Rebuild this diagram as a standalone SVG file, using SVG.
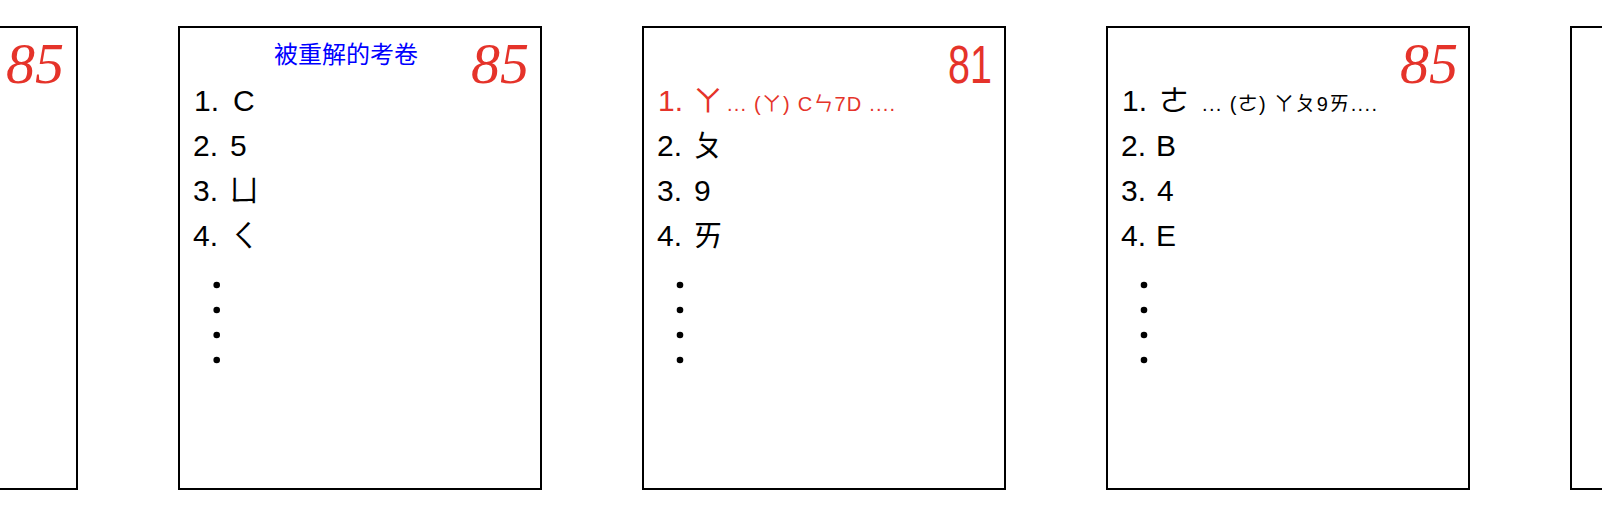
<svg xmlns="http://www.w3.org/2000/svg" width="1602" height="512" viewBox="0 0 1602 512">
<style>
.paper{fill:#fff;stroke:#000;stroke-width:2}
.item{font-family:"Liberation Sans","Noto Sans CJK TC",sans-serif;font-size:30px;fill:#000}
.small{font-family:"Liberation Sans","Noto Sans CJK TC",sans-serif;font-size:20px;fill:#000}
.red{fill:#e5332a}
.score{font-family:"Liberation Serif",serif;font-style:italic;font-size:58px;fill:#e5332a;text-anchor:end}
.score2{font-family:"Liberation Sans",sans-serif;font-size:53px;fill:#e5332a;text-anchor:end}
.title{font-family:"Liberation Sans","Noto Sans CJK TC",sans-serif;font-size:24px;fill:#0000ff;text-anchor:middle}
.dot{fill:#000}
</style>
<rect width="1602" height="512" fill="#fff"/>
<g id="sheet1">
<rect class="paper" x="-285" y="27" width="362" height="462"/>
<text class="score" x="64" y="83">85</text>
</g>
<g id="sheet2">
<rect class="paper" x="179" y="27" width="362" height="462"/>
<text class="title" x="346" y="63">被重解的考卷</text>
<text class="score" x="529" y="83">85</text>
<text class="item" x="194" y="111">1.<tspan x="233">C</tspan></text>
<text class="item" x="193" y="156">2.<tspan x="230">5</tspan></text>
<text class="item" x="193" y="201">3.<tspan x="229">ㄩ</tspan></text>
<text class="item" x="193" y="246">4.<tspan x="229">ㄑ</tspan></text>
<circle class="dot" cx="216.7" cy="285" r="3.3"/>
<circle class="dot" cx="216.7" cy="310" r="3.3"/>
<circle class="dot" cx="216.7" cy="335" r="3.3"/>
<circle class="dot" cx="216.7" cy="360" r="3.3"/>
</g>
<g id="sheet3">
<rect class="paper" x="643" y="27" width="362" height="462"/>
<text class="score2" x="992" y="83" textLength="44" lengthAdjust="spacingAndGlyphs">81</text>
<text class="item red" x="658" y="111">1.<tspan x="693">ㄚ</tspan></text>
<text class="small red" x="727" y="111" textLength="168" lengthAdjust="spacing">... (ㄚ) Cㄣ7D ....</text>
<text class="item" x="657" y="156">2.<tspan x="693">ㄆ</tspan></text>
<text class="item" x="657" y="201">3.<tspan x="694">9</tspan></text>
<text class="item" x="657" y="246">4.<tspan x="693">ㄞ</tspan></text>
<circle class="dot" cx="680" cy="285" r="3.3"/>
<circle class="dot" cx="680" cy="310" r="3.3"/>
<circle class="dot" cx="680" cy="335" r="3.3"/>
<circle class="dot" cx="680" cy="360" r="3.3"/>
</g>
<g id="sheet4">
<rect class="paper" x="1107" y="27" width="362" height="462"/>
<text class="score" x="1458" y="83">85</text>
<text class="item" x="1122" y="111">1.<tspan x="1159">ㄜ</tspan></text>
<text class="small" x="1202" y="111" textLength="175" lengthAdjust="spacing">... (ㄜ) ㄚㄆ9ㄞ....</text>
<text class="item" x="1121" y="156">2.<tspan x="1156">B</tspan></text>
<text class="item" x="1121" y="201">3.<tspan x="1157">4</tspan></text>
<text class="item" x="1121" y="246">4.<tspan x="1156">E</tspan></text>
<circle class="dot" cx="1144" cy="285" r="3.3"/>
<circle class="dot" cx="1144" cy="310" r="3.3"/>
<circle class="dot" cx="1144" cy="335" r="3.3"/>
<circle class="dot" cx="1144" cy="360" r="3.3"/>
</g>
<g id="sheet5">
<rect class="paper" x="1571" y="27" width="362" height="462"/>
</g>
<g id="connectors"/>
</svg>
